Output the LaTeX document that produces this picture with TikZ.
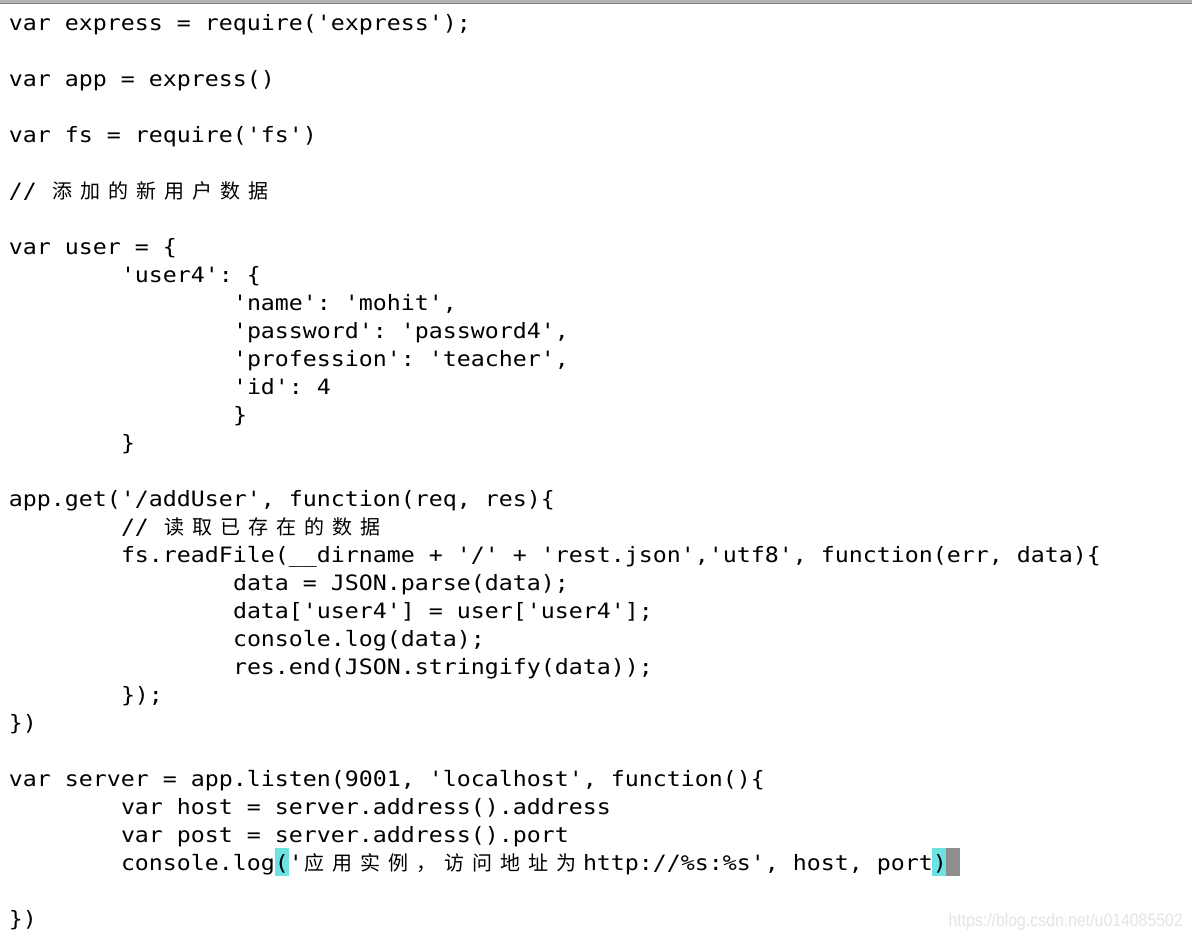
\documentclass[tikz,border=0pt]{standalone}
\usepackage{fontspec}
\newfontfamily\codefont[FakeStretch=1.1]{DejaVu Sans Mono}
\newfontfamily\cjk{Noto Sans CJK SC}
\newfontfamily\wmfont[FakeStretch=0.88]{Liberation Sans}
\newcommand\zc[1]{\makebox[28pt][l]{\hspace{1.5pt}{\cjk\fontsize{20pt}{28pt}\selectfont #1}}}
\definecolor{hlcyan}{HTML}{6CE2E2}
\definecolor{cursorgray}{HTML}{8E8E8E}
\definecolor{wmgray}{HTML}{E4E4E4}
\definecolor{bartop}{HTML}{B4B4B4}
\definecolor{barbot}{HTML}{848484}
\frenchspacing
\tikzset{
  code/.style={anchor=base west, inner sep=0pt, outer sep=0pt,
    font=\codefont\fontsize{21.14pt}{28pt}\selectfont\frenchspacing, text=black},
  hl/.style={fill=hlcyan, draw=none},
  cursor/.style={fill=cursorgray, draw=none},
  wm/.style={anchor=base east, inner sep=0pt, text=wmgray,
    font=\wmfont\fontsize{18pt}{20pt}\selectfont}
}
\begin{document}
\begin{tikzpicture}[x=1pt,y=-1pt]
\useasboundingbox (0,0) rectangle (1192,938);
\fill[white] (0,0) rectangle (1192,938);
% top bar
\fill[bartop] (0,0) rectangle (1192,3);
\fill[barbot] (0,3) rectangle (1192,4.2);
% highlights
\fill[hl] (274.5,848) rectangle (288.5,876);
\fill[hl] (932,848) rectangle (946,876);
\fill[cursor] (946,848) rectangle (960,876);
% code lines
\node[code] (l0)  at (9,30.7)  {var express = require('express');};
\node[code] (l2)  at (9,86.7)  {var app = express()};
\node[code] (l4)  at (9,142.7) {var fs = require('fs')};
\node[code] (l6)  at (9,198.7) {// \zc{添}\zc{加}\zc{的}\zc{新}\zc{用}\zc{户}\zc{数}\zc{据}};
\node[code] (l8)  at (9,254.7) {var user = \{};
\node[code] (l9)  at (121,282.7) {'user4': \{};
\node[code] (l10) at (233,310.7) {'name': 'mohit',};
\node[code] (l11) at (233,338.7) {'password': 'password4',};
\node[code] (l12) at (233,366.7) {'profession': 'teacher',};
\node[code] (l13) at (233,394.7) {'id': 4};
\node[code] (l14) at (233,422.7) {\}};
\node[code] (l15) at (121,450.7) {\}};
\node[code] (l17) at (9,506.7) {app.get('/addUser', function(req, res)\{};
\node[code] (l18) at (121,534.7) {// \zc{读}\zc{取}\zc{已}\zc{存}\zc{在}\zc{的}\zc{数}\zc{据}};
\node[code] (l19) at (121,562.7) {fs.readFile(\_\_dirname + '/' + 'rest.json','utf8', function(err, data)\{};
\node[code] (l20) at (233,590.7) {data = JSON.parse(data);};
\node[code] (l21) at (233,618.7) {data['user4'] = user['user4'];};
\node[code] (l22) at (233,646.7) {console.log(data);};
\node[code] (l23) at (233,674.7) {res.end(JSON.stringify(data));};
\node[code] (l24) at (121,702.7) {\});};
\node[code] (l25) at (9,730.7) {\})};
\node[code] (l27) at (9,786.7) {var server = app.listen(9001, 'localhost', function()\{};
\node[code] (l28) at (121,814.7) {var host = server.address().address};
\node[code] (l29) at (121,842.7) {var post = server.address().port};
\node[code] (l30) at (121,870.7) {console.log('\zc{应}\zc{用}\zc{实}\zc{例}\zc{，}\zc{访}\zc{问}\zc{地}\zc{址}\zc{为}http://\%s:\%s', host, port)};
\node[code] (l32) at (9,926.7) {\})};
% watermark
\node[wm] (wm) at (1183,926) {https://blog.csdn.net/u014085502};
\end{tikzpicture}
\end{document}
